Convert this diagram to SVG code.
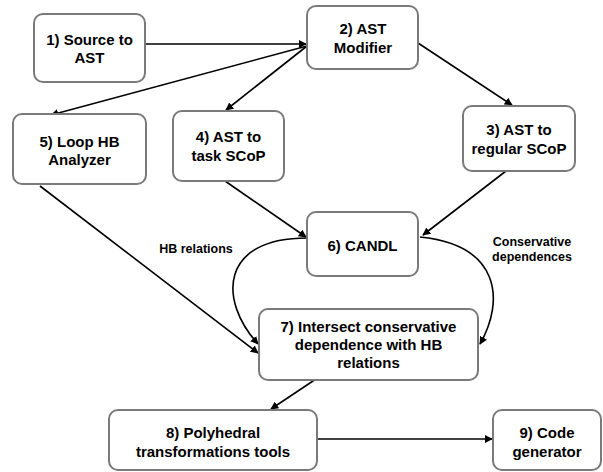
<svg xmlns="http://www.w3.org/2000/svg" width="603" height="472" viewBox="0 0 603 472">
<defs>
<style>
.box{fill:#fff;stroke:#7a7a7a;stroke-width:2}
.t{font-family:"Liberation Sans",Arial,sans-serif;font-weight:bold;font-size:15px;fill:#000;text-anchor:middle}
.l{font-family:"Liberation Sans",Arial,sans-serif;font-weight:bold;font-size:12.5px;fill:#000;text-anchor:middle}
.e{fill:none;stroke:#000;stroke-width:1.6;marker-end:url(#ah)}
</style>
<marker id="ah" viewBox="0 0 10 10" refX="9" refY="5" markerWidth="8" markerHeight="8" markerUnits="userSpaceOnUse" orient="auto">
<path d="M0,0 L10,5 L0,10 z" fill="#000"/>
</marker>
</defs>
<rect width="603" height="472" fill="#fff"/>
<g id="edges">
<path class="e" d="M145,44 L306,44"/>
<path class="e" d="M307,46 L51,115"/>
<path class="e" d="M307,46 L226,110"/>
<path class="e" d="M418,43 L512,105"/>
<path class="e" d="M506,171 L423,235"/>
<path class="e" d="M225,181 L306,237"/>
<path class="e" d="M40,186 L258,353"/>
<path class="e" d="M307,238 C220,238 218,300 258,344"/>
<path class="e" d="M420,237 C500,245 505,300 480,344"/>
<path class="e" d="M316,379 L271,409"/>
<path class="e" d="M317,439 L492,439"/>
</g>
<g id="labels">
<text class="l" x="196" y="253">HB relations</text>
<text class="l" x="532" y="246">Conservative</text>
<text class="l" x="532" y="261">dependences</text>
</g>
<g id="n1"><rect class="box" x="34" y="14" width="111" height="68" rx="9"/><text class="t" x="89.5" y="45">1) Source to</text><text class="t" x="89.5" y="63">AST</text></g>
<g id="n2"><rect class="box" x="307" y="6" width="111" height="63" rx="9"/><text class="t" x="363" y="34">2) AST</text><text class="t" x="363" y="53">Modifier</text></g>
<g id="n3"><rect class="box" x="463" y="106" width="112" height="65" rx="9"/><text class="t" x="519" y="135">3) AST to</text><text class="t" x="519" y="154">regular SCoP</text></g>
<g id="n4"><rect class="box" x="173" y="111" width="111" height="70" rx="9"/><text class="t" x="228.5" y="142">4) AST to</text><text class="t" x="228.5" y="161">task SCoP</text></g>
<g id="n5"><rect class="box" x="13" y="114" width="133" height="70" rx="9"/><text class="t" x="79.5" y="147">5) Loop HB</text><text class="t" x="79.5" y="165">Analyzer</text></g>
<g id="n6"><rect class="box" x="307" y="212" width="111" height="64" rx="9"/><text class="t" x="362.5" y="251">6) CANDL</text></g>
<g id="n7"><rect class="box" x="259" y="309" width="219" height="71" rx="9"/><text class="t" x="368.5" y="332">7) Intersect conservative</text><text class="t" x="368.5" y="350">dependence with HB</text><text class="t" x="368.5" y="368">relations</text></g>
<g id="n8"><rect class="box" x="109" y="410" width="208" height="60" rx="9"/><text class="t" x="213" y="438">8) Polyhedral</text><text class="t" x="213" y="457">transformations tools</text></g>
<g id="n9"><rect class="box" x="493" y="410" width="108" height="60" rx="9"/><text class="t" x="547" y="438">9) Code</text><text class="t" x="547" y="457">generator</text></g>
</svg>
